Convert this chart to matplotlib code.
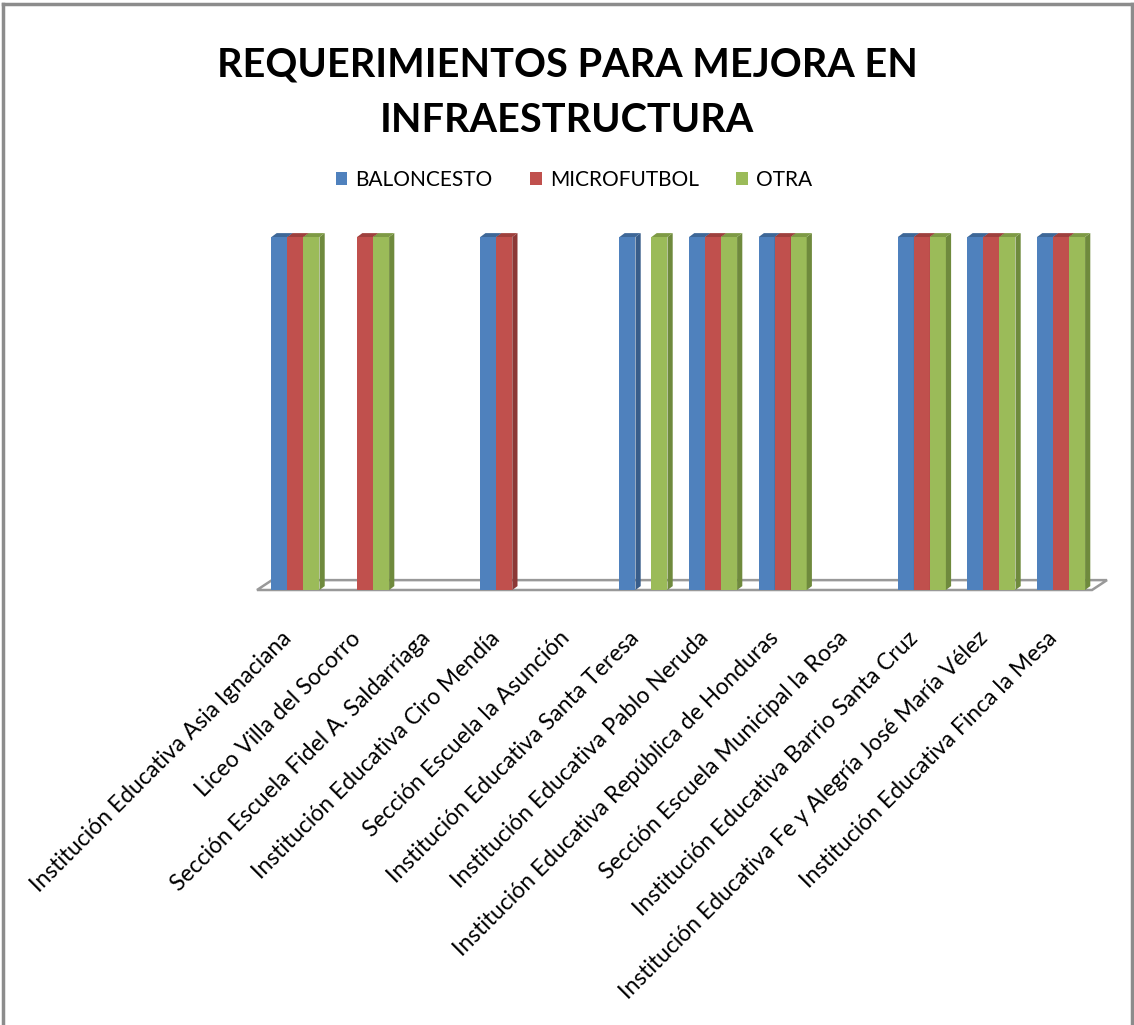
import matplotlib
matplotlib.use("Agg")
import matplotlib.pyplot as plt
from matplotlib.patches import Polygon, Rectangle
from matplotlib.lines import Line2D

plt.rcParams['font.family'] = ['Lato', 'DejaVu Sans']

# datos
categorias = [
    "Institución Educativa Asia Ignaciana",
    "Liceo Villa del Socorro",
    "Sección Escuela Fidel A. Saldarriaga",
    "Institución Educativa Ciro Mendía",
    "Sección Escuela la Asunción",
    "Institución Educativa Santa Teresa",
    "Institución Educativa Pablo Neruda",
    "Institución Educativa República de Honduras",
    "Sección Escuela Municipal la Rosa",
    "Institución Educativa Barrio Santa Cruz",
    "Institución Educativa Fe y Alegría José María Vélez",
    "Institución Educativa Finca la Mesa",
]
series = ["BALONCESTO", "MICROFUTBOL", "OTRA"]
baloncesto = [1, 0, 0, 1, 0, 1, 1, 1, 0, 1, 1, 1]
microfutbol = [1, 1, 0, 1, 0, 0, 1, 1, 0, 1, 1, 1]
otra = [1, 1, 0, 0, 0, 1, 1, 1, 0, 1, 1, 1]

colores = ["#4F81BD", "#C0504D", "#9BBB59"]
lados = ["#385D8A", "#8C3836", "#6F8A3D"]
techos = ["#3E6797", "#9E403D", "#7E9A45"]

fig = plt.figure(figsize=(11.34, 10.25), dpi=100)
W, H = 1134, 1025

# marco exterior
fig.add_artist(Line2D([3 / W, 3 / W], [0, 1 - 4 / H], color="#8C8C8C", lw=2.5))
fig.add_artist(Line2D([3 / W, 1132 / W], [1 - 4 / H, 1 - 4 / H], color="#8C8C8C", lw=2.5))
fig.add_artist(Line2D([1132 / W, 1132 / W], [0, 1 - 4 / H], color="#8C8C8C", lw=2.5))

ax = fig.add_axes([257 / W, 1 - 590 / H, 850 / W, 353 / H])
ax.set_xlim(-0.553, 11.66)
ax.set_ylim(0, 1)
for s in ax.spines.values():
    s.set_visible(False)
ax.set_yticks([])
ax.patch.set_visible(False)

# piso en perspectiva
x0, x1 = ax.get_xlim()
dxp, dyp = 0.215, 0.028
piso = Polygon([(x0, 0), (x1 - dxp, 0), (x1, dyp), (x0 + dxp, dyp)],
               closed=True, facecolor="white", edgecolor="#999999", lw=1.8,
               clip_on=False, zorder=1)
ax.add_patch(piso)

# barras con efecto 3D
ancho = 0.23
dx, dy = 0.075, 0.011
valores = [baloncesto, microfutbol, otra]
z = 2
for i in range(len(categorias)):
    for j, vals in enumerate(valores):
        v = vals[i]
        if v <= 0:
            continue
        xc = i + (j - 1) * ancho
        xl, xr = xc - ancho / 2, xc + ancho / 2
        ax.bar(xc, v, width=ancho, color=colores[j], zorder=z, clip_on=False)
        ax.add_patch(Polygon([(xr, 0), (xr + dx, dy), (xr + dx, v + dy), (xr, v)],
                             closed=True, facecolor=lados[j], lw=0, zorder=z, clip_on=False))
        ax.add_patch(Polygon([(xl, v), (xr, v), (xr + dx, v + dy), (xl + dx, v + dy)],
                             closed=True, facecolor=techos[j], lw=0, zorder=z, clip_on=False))
        z += 1

ax.set_xticks(range(len(categorias)))
ax.set_xticklabels(categorias, rotation=45, ha="right", va="top", fontsize=16.5)
ax.tick_params(axis="x", length=0, pad=27)

fig.text(0.5, 1 - 77 / H, "REQUERIMIENTOS PARA MEJORA EN", ha="center", va="baseline",
         fontsize=28.5, fontweight="bold")
fig.text(0.5, 1 - 132 / H, "INFRAESTRUCTURA", ha="center", va="baseline",
         fontsize=28.5, fontweight="bold")

handles = [Rectangle((0, 0), 1, 1, facecolor=c) for c in colores]
fig.legend(handles, series, loc="center", bbox_to_anchor=(574 / W, 1 - 180 / H),
           ncol=3, frameon=False, fontsize=15, handlelength=0.55, handleheight=0.55,
           handletextpad=0.4, columnspacing=1.8)

fig.savefig("out.png", dpi=100, facecolor="white")
